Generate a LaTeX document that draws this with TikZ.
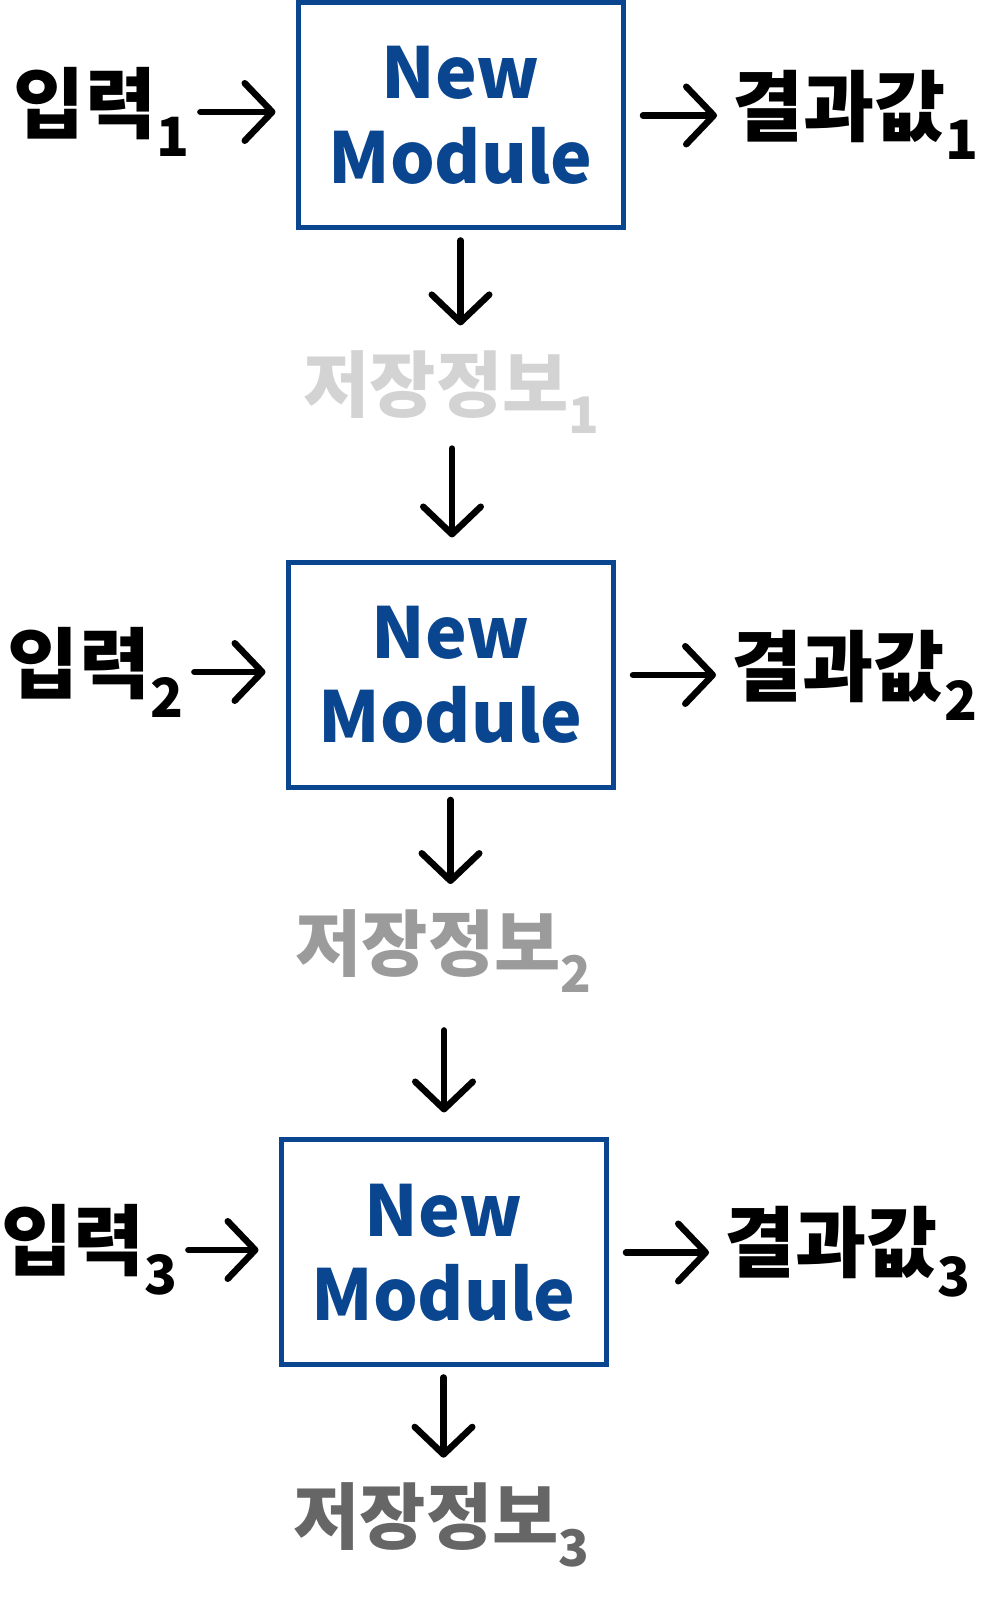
\documentclass[tikz,border=0pt]{standalone}
\usepackage{fontspec}
\usepackage{xcolor}
\usepackage{tikz}
\usetikzlibrary{arrows.meta, positioning, calc}
\newfontfamily\krfont{Noto Sans CJK KR}
\definecolor{modblue}{HTML}{0A4690}
\definecolor{memlight}{HTML}{D3D3D3}
\definecolor{memmid}{HTML}{9B9B9B}
\definecolor{memdark}{HTML}{666666}

\begin{document}
\begin{tikzpicture}[
    module/.style={draw=modblue, line width=0.1cm, minimum width=6.5cm, minimum height=4.5cm,
        text=modblue, align=center, font=\krfont\bfseries\fontsize{40}{48}\selectfont},
    label/.style={inner sep=0pt, font=\krfont\bfseries\fontsize{44}{50}\selectfont},
    memory/.style={inner sep=0pt, font=\krfont\bfseries\fontsize{41}{48}\selectfont},
    flow/.style={line width=0.13cm, line cap=round,
        -{Straight Barb[round, length=0.55cm, width=1.15cm]}}
]
    \useasboundingbox (0,0) rectangle (20,31.96);

    % Module 1
    \node[module] (box1) at (9.21, 29.65) {New\\Module};
    \node[label] (in1) at (2.04, 29.72) {입력\textsubscript{1}};
    \node[label] (out1) at (17.12, 29.66) {결과값\textsubscript{1}};
    \node[memory, text=memlight] (mem1) at (9.04, 24.12) {저장정보\textsubscript{1}};

    % Module 2
    \node[module] (box2) at (9.01, 18.46) {New\\Module};
    \node[label] (in2) at (1.92, 18.52) {입력\textsubscript{2}};
    \node[label] (out2) at (17.10, 18.46) {결과값\textsubscript{2}};
    \node[memory, text=memmid] (mem2) at (8.88, 12.94) {저장정보\textsubscript{2}};

    % Module 3
    \node[module] (box3) at (8.87, 6.91) {New\\Module};
    \node[label] (in3) at (1.80, 6.96) {입력\textsubscript{3}};
    \node[label] (out3) at (16.96, 6.92) {결과값\textsubscript{3}};
    \node[memory, text=memdark] (mem3) at (8.84, 1.46) {저장정보\textsubscript{3}};

    % inputs and outputs
    \draw[flow, shorten <=0.2cm, shorten >=0.4cm] (in1.east) -- (in1.east -| box1.west);
    \draw[flow, shorten <=0.2cm, shorten >=0.4cm] (in2.east) -- (in2.east -| box2.west);
    \draw[flow, shorten <=0.2cm, shorten >=0.4cm] (in3.east) -- (in3.east -| box3.west);
    \draw[flow, shorten <=0.35cm, shorten >=0.3cm] (box1.east) -- (box1.east -| out1.west);
    \draw[flow, shorten <=0.35cm, shorten >=0.3cm] (box2.east) -- (box2.east -| out2.west);
    \draw[flow, shorten <=0.35cm, shorten >=0.3cm] (box3.east) -- (box3.east -| out3.west);

    % memory chain
    \draw[flow, shorten <=0.2cm, shorten >=0.5cm] (box1.south) -- (box1.south |- mem1.north);
    \draw[flow, shorten <=0.3cm, shorten >=0.45cm] (mem1.south) -- (mem1.south |- box2.north);
    \draw[flow, shorten <=0.2cm, shorten >=0.5cm] (box2.south) -- (box2.south |- mem2.north);
    \draw[flow, shorten <=0.75cm, shorten >=0.5cm] (mem2.south) -- (mem2.south |- box3.north);
    \draw[flow, shorten <=0.2cm, shorten >=0.5cm] (box3.south) -- (box3.south |- mem3.north);
\end{tikzpicture}
\end{document}
